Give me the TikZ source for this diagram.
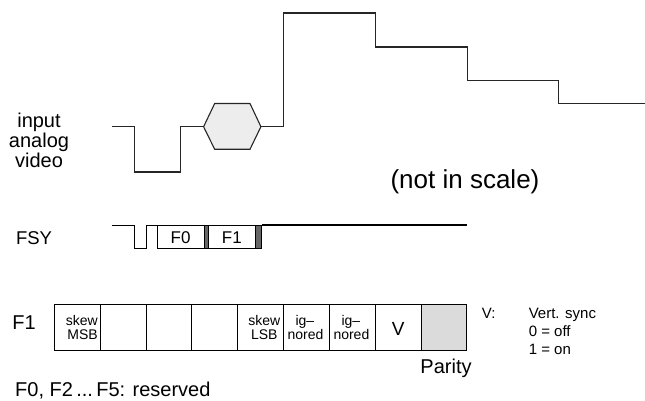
\documentclass[tikz,border=0pt]{standalone}
\usepackage{fontspec}
\setmainfont{Liberation Sans}
\newcommand{\fs}[2]{\fontsize{#1}{#2}\selectfont}
\begin{document}
\begin{tikzpicture}[x=1pt,y=-1pt,
  wave/.style={line width=1.1pt,black!85,line join=miter},
  lbl/.style={inner sep=0pt,font=\fs{20}{20}},
  cell/.style={inner sep=0pt,font=\fs{14}{14.5},align=right},
  thin/.style={line width=0.9pt,black}]
\useasboundingbox (0,0) rectangle (645,401);
% analog video waveform
\draw[wave] (111.5,126.7) -- (134.8,126.7) -- (134.8,172) -- (180.6,172) -- (180.6,126.7) -- (203.6,126.7);
\draw[wave,fill=black!7] (203.6,126.7) -- (214.7,103.5) -- (250,103.5) -- (260.9,126.7) -- (250,149.3) -- (214.7,149.3) -- cycle;
\draw[wave] (260.9,126.7) -- (283.5,126.7) -- (283.5,13) -- (375.6,13) -- (375.6,47) -- (467.4,47) -- (467.4,80.7) -- (558.8,80.7) -- (558.8,103.7) -- (645,103.7);
\node[lbl,align=center] (inp) at (39,140) {input\\analog\\video};
\node[inner sep=0pt,font=\fs{26}{26}] (nis) at (465,182) {(not in scale)};
% FSY
\node[inner sep=0pt,font=\fs{18.5}{18.5}] (fsy) at (34,238) {FSY};
\draw[thin] (111.7,225.5) -- (134.8,225.5) -- (134.8,248.3) -- (146.5,248.3) -- (146.5,225.5) -- (157.3,225.5);
\draw[thin] (157.3,225.5) rectangle (204,248.3);
\draw[thin,fill=black!60] (204,225.5) rectangle (208.7,248.3);
\draw[thin] (208.7,225.5) rectangle (255,248.3);
\draw[thin,fill=black!60] (255,225.5) rectangle (261.7,248.3);
\draw[line width=2pt] (261.7,225) -- (466.7,225);
\node[inner sep=0pt,font=\fs{17}{17}] (f0) at (180.6,237.5) {F0};
\node[inner sep=0pt,font=\fs{17}{17}] (f1b) at (231.8,237.5) {F1};
% F1 register
\node[lbl] (f1) at (24,323) {F1};
\foreach \i in {0,...,8} {
  \draw[thin] ({54.3+45.84*\i},304.3) rectangle ({54.3+45.84*(\i+1)},350);
}
\draw[thin,fill=black!14] ({54.3+45.84*8},304.3) rectangle (466.9,350);
\node[cell,anchor=east] (c1) at (98,327.5) {skew\\MSB};
\node[cell,align=center,anchor=east] (c5) at (280.5,327.5) {skew\\LSB};
\node[cell,align=left] (c6) at (305.5,327.5) {\hspace*{8pt}ig–\\nored};
\node[cell,align=left] (c7) at (351.4,327.5) {\hspace*{8pt}ig–\\nored};
\node[inner sep=0pt,font=\fs{19}{19}] (cv) at (398.3,328.5) {V};
\node[lbl] (par) at (446,368) {Parity};
% legend
\node[inner sep=0pt,anchor=base west,font=\fs{15}{15}] (vl) at (481.7,318) {V:};
\node[inner sep=0pt,anchor=base west,font=\fs{15}{15}] (vs) at (528.6,318) {Vert. sync};
\node[inner sep=0pt,anchor=base west,font=\fs{15}{15}] (v0) at (528.6,336.5) {0 = off};
\node[inner sep=0pt,anchor=base west,font=\fs{15}{15}] (v1) at (528.6,354.5) {1 = on};
\node[inner sep=0pt,anchor=base west,font=\fs{20}{20}] (res) at (15,396.7) {F0, F2\,...\,F5: reserved};
\end{tikzpicture}
\end{document}
